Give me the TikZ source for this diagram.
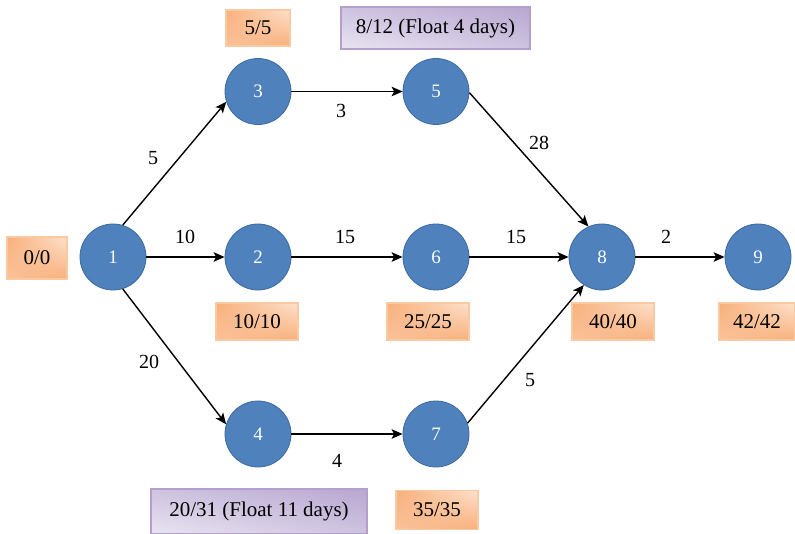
\documentclass[tikz,border=0pt]{standalone}
\usepackage{fontspec}
\setmainfont{Liberation Serif}
\usetikzlibrary{arrows.meta,shadings}
\definecolor{nodeblue}{HTML}{4F81BD}
\definecolor{nodeedge}{HTML}{3C6A9E}
\definecolor{orDark}{HTML}{F8AF7A}
\definecolor{orMid}{HTML}{FAC29A}
\definecolor{orLight}{HTML}{FDE2CE}
\definecolor{orEdge}{HTML}{F9C9A2}
\definecolor{puDark}{HTML}{B8A7D0}
\definecolor{puMid}{HTML}{CEC3E0}
\definecolor{puLight}{HTML}{E9E4F1}
\definecolor{puEdge}{HTML}{B29FCB}
\tikzset{
  event/.style={circle, draw=nodeedge, line width=0.8pt, fill=nodeblue,
    minimum size=66pt, inner sep=0pt, text=white, font=\fontsize{19}{22}\selectfont},
  timebox/.style={rectangle, draw=orEdge, line width=1.2pt,
    upper left=orDark, upper right=orLight, lower left=orMid, lower right=orDark,
    minimum height=37pt, inner sep=0pt, font=\fontsize{21}{24}\selectfont},
  floatbox/.style={rectangle, draw=puEdge, line width=1.2pt,
    upper left=puMid, upper right=puDark, lower left=puLight, lower right=puMid,
    inner sep=0pt, font=\fontsize{21}{24}\selectfont},
  dur/.style={font=\fontsize{20}{24}\selectfont, inner sep=1pt},
  act/.style={line width=1.4pt, -{Stealth[length=11pt, width=9.5pt, inset=2.5pt]}}
}
\begin{document}
\begin{tikzpicture}[x=1pt, y=-1pt]
  \useasboundingbox (0,0) rectangle (795,534);

  % events
  \node[event] (n1) at (113,257) {1};
  \node[event] (n2) at (258,257) {2};
  \node[event] (n3) at (258,91.5)  {3};
  \node[event] (n4) at (258,434) {4};
  \node[event] (n5) at (436,91.5)  {5};
  \node[event] (n6) at (436,257) {6};
  \node[event] (n7) at (436,434) {7};
  \node[event] (n8) at (602,257) {8};
  \node[event] (n9) at (758,257) {9};

  % activities
  \draw[act] (n1.73) -- (n3.198);
  \draw[act] (n1) -- (n2);
  \draw[act] (n1.287) -- (n4.163);
  \draw[act] (n3) -- (n5);
  \draw[act] (n2) -- (n6);
  \draw[act] (n4) -- (n7);
  \draw[act] (n5.-2) -- (n8.114);
  \draw[act] (n6) -- (n8);
  \draw[act] (n7.19) -- (n8.237);
  \draw[act] (n8) -- (n9);

  % durations
  \node[dur] (d13) at (153,158) {5};
  \node[dur] (d12) at (185,237) {10};
  \node[dur] (d14) at (149,362) {20};
  \node[dur] (d35) at (341,111) {3};
  \node[dur] (d26) at (345,237) {15};
  \node[dur] (d47) at (337,461) {4};
  \node[dur] (d58) at (539,143) {28};
  \node[dur] (d68) at (516,237) {15};
  \node[dur] (d78) at (530,380) {5};
  \node[dur] (d89) at (666,237) {2};

  % earliest / latest times
  \node[timebox, minimum width=60pt, minimum height=42pt] (t1) at (37,258) {0/0};
  \node[timebox, minimum width=64pt, minimum height=36pt] (t3) at (258,28) {5/5};
  \node[timebox, minimum width=82pt] (t2) at (257,321.5) {10/10};
  \node[timebox, minimum width=82pt] (t6) at (428,321.5) {25/25};
  \node[timebox, minimum width=82pt] (t8) at (613,321.5) {40/40};
  \node[timebox, minimum width=76pt] (t9) at (757,321.5) {42/42};
  \node[timebox, minimum width=82pt, minimum height=39pt] (t7) at (437,510) {35/35};
  \node[floatbox, minimum width=189pt, minimum height=42pt] (f5) at (435.5,28) {8/12 (Float 4 days)};
  \node[floatbox, minimum width=216pt, minimum height=45pt] (f4) at (259,511.5) {20/31 (Float 11 days)};
\end{tikzpicture}
\end{document}
